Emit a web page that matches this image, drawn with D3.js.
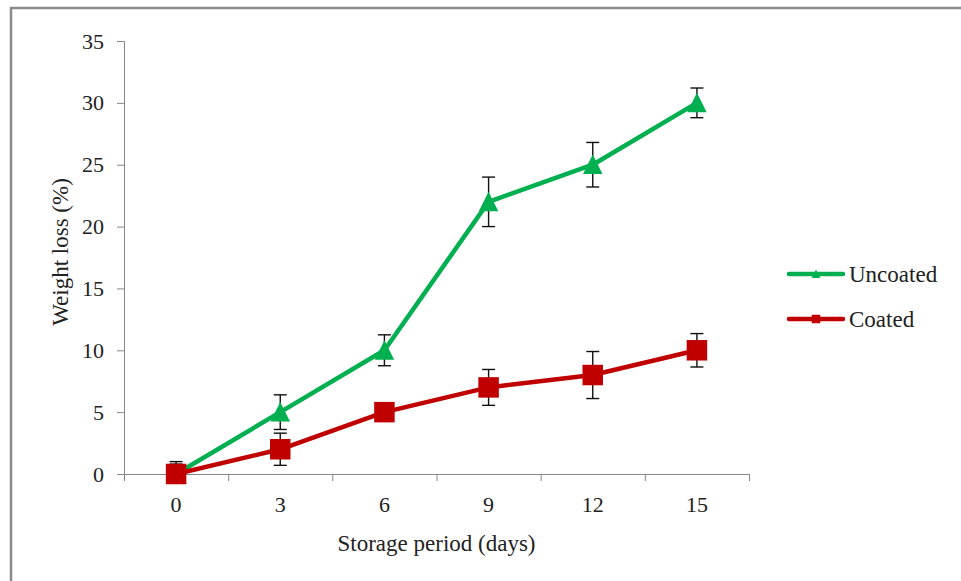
<!DOCTYPE html>
<html>
<head>
<meta charset="utf-8">
<script src="https://cdn.jsdelivr.net/npm/d3@7"></script>
<style>
  body { margin: 0; background: #fff; }
  svg text { font-family: "Liberation Serif", "Times New Roman", serif; fill: #222; }
</style>
</head>
<body>
<svg id="chart" width="961" height="581"></svg>
<script>
// ---------------------------------------------------------------------------
// Data
// ---------------------------------------------------------------------------
const days = ['0', '3', '6', '9', '12', '15'];
const uncoated = [0, 5, 10, 22, 25, 30];
const uncoatedErr = [1.0, 1.4, 1.25, 2.0, 1.8, 1.2];
const coated = [0, 2, 5, 7, 8, 10];
const coatedErr = [0.8, 1.3, 0.5, 1.45, 1.9, 1.35];
const yTicks = [0, 5, 10, 15, 20, 25, 30, 35];

const series = [
  { name: 'Uncoated', values: uncoated, err: uncoatedErr, color: '#00b050', shape: 'triangle' },
  { name: 'Coated', values: coated, err: coatedErr, color: '#c00000', shape: 'square' },
];

// ---------------------------------------------------------------------------
// Layout
// ---------------------------------------------------------------------------
const margin = { top: 41, right: 212, bottom: 107, left: 124 };
const W = 961, H = 581;
const w = W - margin.left - margin.right;
const h = H - margin.top - margin.bottom;
const axisGrey = '#868686';

const svg = d3.select('#chart');

// outer frame (top and left edges only, as cropped)
svg.append('path')
  .attr('d', `M11,${H} L11,8 L${W},8`)
  .attr('fill', 'none').attr('stroke', '#8a8a8a').attr('stroke-width', 2.5);

const g = svg.append('g').attr('transform', `translate(${margin.left},${margin.top})`);

const x = d3.scaleBand().domain(days).range([0, w]).padding(0);
const xEdge = d3.scaleLinear().domain([0, days.length]).range([0, w]);
const y = d3.scaleLinear().domain([0, 35]).range([h, 0]);

// y axis
const yAx = g.append('g')
  .call(d3.axisLeft(y).tickValues(yTicks).tickSize(7).tickPadding(13));
yAx.selectAll('text').style('font-size', '22px').attr('fill', '#222');
yAx.selectAll('.domain,.tick line').attr('stroke', axisGrey);

// x axis: boundary ticks
const xAx = g.append('g').attr('transform', `translate(0,${h})`)
  .call(d3.axisBottom(xEdge).ticks(days.length).tickSize(7).tickFormat(''));
xAx.selectAll('.domain,.tick line').attr('stroke', axisGrey);

// x axis: category labels
const xLab = g.append('g').attr('transform', `translate(0,${h})`)
  .call(d3.axisBottom(x).tickSize(0).tickPadding(22));
xLab.select('.domain').remove();
xLab.selectAll('text').style('font-size', '22px').attr('fill', '#222');

// axis titles
g.append('text')
  .attr('x', w / 2).attr('y', h + 77)
  .attr('text-anchor', 'middle').style('font-size', '23px')
  .text('Storage period (days)');
g.append('text')
  .attr('transform', `translate(${60 - margin.left},${252 - margin.top}) rotate(-90)`)
  .attr('text-anchor', 'middle').attr('dy', '0.35em').style('font-size', '23px')
  .text('Weight loss (%)');

// ---------------------------------------------------------------------------
// Series
// ---------------------------------------------------------------------------
const cx = d => x(d) + x.bandwidth() / 2;
const line = d3.line().x((v, i) => cx(days[i])).y(v => y(v));

// Excel-style markers: isoceles triangle (as tall as wide) or square
function markerPath(shape, s) {
  const p = d3.path();
  if (shape === 'triangle') {
    p.moveTo(0, -s * 0.52); p.lineTo(s / 2, s * 0.48); p.lineTo(-s / 2, s * 0.48); p.closePath();
  } else {
    p.rect(-s / 2, -s / 2, s, s);
  }
  return p.toString();
}

series.forEach(s => {
  g.append('path')
    .datum(s.values)
    .attr('d', line)
    .attr('fill', 'none').attr('stroke', s.color).attr('stroke-width', 4.5)
    .attr('stroke-linejoin', 'round');

  const eb = g.append('g').attr('stroke', '#111').attr('stroke-width', 1.4);
  s.values.forEach((v, i) => {
    const px = cx(days[i]);
    const lo = y(Math.max(0, v - s.err[i])), hi = y(v + s.err[i]);
    eb.append('line').attr('x1', px).attr('x2', px).attr('y1', lo).attr('y2', hi);
    eb.append('line').attr('x1', px - 6.5).attr('x2', px + 6.5).attr('y1', hi).attr('y2', hi);
    if (v - s.err[i] > 0)
      eb.append('line').attr('x1', px - 6.5).attr('x2', px + 6.5).attr('y1', lo).attr('y2', lo);
  });

  g.selectAll(null).data(s.values).join('path')
    .attr('transform', (v, i) => `translate(${cx(days[i])},${y(v)})`)
    .attr('d', markerPath(s.shape, s.shape === 'triangle' ? 19.5 : 20.5))
    .attr('fill', s.color);
});

// ---------------------------------------------------------------------------
// Legend
// ---------------------------------------------------------------------------
const legend = svg.append('g').attr('transform', 'translate(789,274)');
series.forEach((s, i) => {
  const row = legend.append('g').attr('transform', `translate(0,${i * 45})`);
  row.append('line').attr('x1', 0).attr('x2', 54)
    .attr('stroke', s.color).attr('stroke-width', 4.5).attr('stroke-linecap', 'round');
  row.append('path').attr('transform', 'translate(27,0)')
    .attr('d', markerPath(s.shape, 8.5))
    .attr('fill', s.color);
  row.append('text').attr('x', 60).attr('dy', '0.33em')
    .style('font-size', '23px').text(s.name);
});
</script>
</body>
</html>
